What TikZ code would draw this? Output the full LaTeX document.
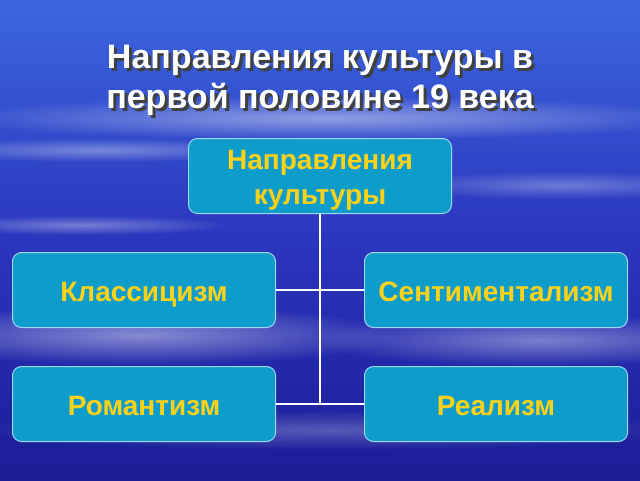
\documentclass[tikz,border=0pt]{standalone}
\usepackage{fontspec}
\setmainfont{Liberation Sans}
\usetikzlibrary{positioning,fadings}

\definecolor{skytop}{HTML}{3C66DE}
\definecolor{skymid}{HTML}{2A34BC}
\definecolor{skylow}{HTML}{1C1C96}
\definecolor{boxfill}{HTML}{0E9CCB}
\definecolor{boxline}{HTML}{9FD8F2}
\definecolor{boxtext}{HTML}{FFD21A}

\tikzfading[name=softcloud, inner color=transparent!0, outer color=transparent!100]

\begin{document}
\begin{tikzpicture}[x=1pt, y=-1pt,
    box/.style={draw=boxline, line width=1pt, fill=boxfill, rounded corners=9pt,
                minimum width=263pt, minimum height=75pt, inner sep=0pt,
                text=boxtext, font=\bfseries\fontsize{28}{35}\selectfont, align=center,
                text height=22pt, text depth=0pt},
    boxlabel/.style={text=boxtext, font=\bfseries\fontsize{28}{35}\selectfont, align=center},
    heading/.style={font=\bfseries\fontsize{34}{40}\selectfont, align=center},
    link/.style={draw=white, line width=1.8pt},
    streak/.style={fill=white, opacity=#1, path fading=softcloud}]

            % Background
            \useasboundingbox (0,0) rectangle (640,480);
            \shade[top color=skytop, bottom color=skymid] (0,0) rectangle (640,250);
            \shade[top color=skymid, bottom color=skylow] (0,250) rectangle (640,480);

            % Clouds
            \fill[streak=0.45] (330,118) ellipse (380 and 22);
            \fill[streak=0.35] (100,150) ellipse (190 and 12);
            \fill[streak=0.30] (560,185) ellipse (170 and 14);
            \fill[streak=0.35] (80,225) ellipse (150 and 10);
            \fill[streak=0.45] (140,335) ellipse (260 and 30);
            \fill[streak=0.40] (540,340) ellipse (230 and 26);
            \fill[streak=0.25] (330,430) ellipse (360 and 20);

            % Title
            \node[heading, text=black!75] (titleshadow) at (323,83) {Направления культуры в\\первой половине 19 века};
            \node[heading, text=white] (title) at (320,80) {Направления культуры в\\первой половине 19 века};

            % Boxes
            \node[box] (culture) at (320,176) {};
            \node[boxlabel] (culturetext) at (320,180) {Направления\\культуры};
            \node[box] (classic) at (144,290) {Классицизм};
            \node[box] (sentiment) at (496,290) {Сентиментализм};
            \node[box] (romantic) at (144,404) {Романтизм};
            \node[box] (realism) at (496,404) {Реализм};

            % Links
            \coordinate (stemend) at (culture.south |- romantic.east);
            \draw[link] (culture.south) -- (stemend);
            \draw[link] (classic.east) -- (sentiment.west);
            \draw[link] (romantic.east) -- (realism.west);

\end{tikzpicture}
\end{document}
